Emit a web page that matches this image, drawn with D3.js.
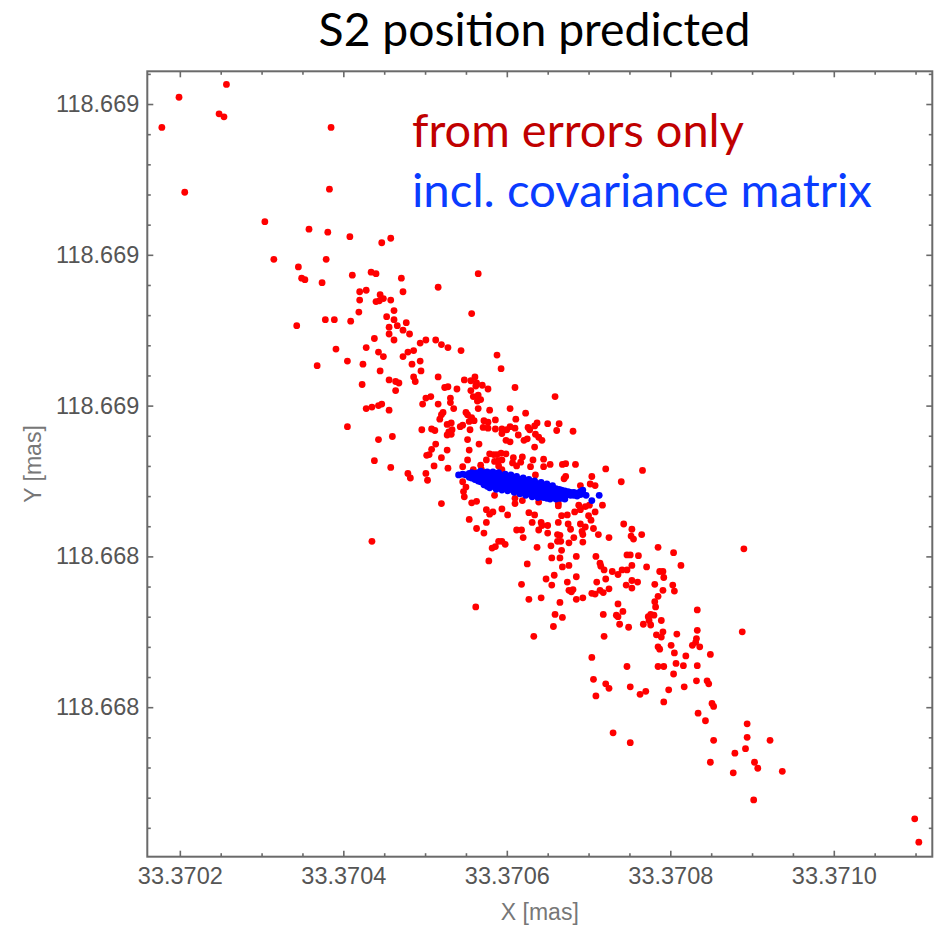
<!DOCTYPE html>
<html>
<head>
<meta charset="utf-8">
<script src="https://cdn.jsdelivr.net/npm/d3@7"></script>
<style>
  body { margin: 0; background: #fff; }
  svg { display: block; }
</style>
</head>
<body>
<svg id="chart" width="934" height="926"></svg>
<script>
// Positions are stored as offsets in nas (1e-6 mas) from these reference values (mas)
const X_REF = 33.3700;
const Y_REF = 118.6684;

const xTicks = [200, 400, 600, 800, 1000];
const xTickLabels = ["33.3702", "33.3704", "33.3706", "33.3708", "33.3710"];
const yTicks = [155, 135, 115, 95, 75];
const yTickLabels = ["118.669", "118.669", "118.669", "118.668", "118.668"];

const titleText = "S2 position predicted";
const seriesNames = ["from errors only", "incl. covariance matrix"];
const xAxisTitle = "X [mas]";
const yAxisTitle = "Y [mas]";

// Predicted positions, errors only: [x offset, y offset] in nas
const errorsOnly = [
  [257,157.6],[199,155.9],[248,153.7],[254,153.3],[178,151.9],[385,151.9],[206,143.3],[383,143.7],
  [304,139.4],[358,138.4],[381,138.0],[408,137.4],[315,134.4],[345,133.4],[379,134.4],[447,136.6],
  [458,137.2],[349,131.9],[353,131.7],[374,131.3],[411,132.3],[434,132.7],[440,132.5],[471,131.9],
  [516,130.7],[565,132.5],[420,130.1],[428,130.3],[445,129.7],[420,129.0],[440,128.8],[444,128.9],
  [449,129.2],[458,129.0],[473,130.1],[419,127.4],[462,127.6],[453,126.8],[378,126.4],[389,126.4],
  [409,126.2],[343,125.6],[462,126.4],[477,126.0],[456,125.4],[466,125.6],[473,125.0],[481,124.5],
  [456,124.5],[557,127.2],[438,123.9],[462,123.7],[494,123.3],[501,123.7],[513,123.7],[520,123.1],
  [528,122.7],[544,122.3],[391,122.5],[428,122.7],[443,122.1],[449,121.5],[479,122.1],[486,122.3],
  [473,121.5],[494,120.9],[484,120.5],[495,119.6],[368,120.3],[405,120.9],[424,120.5],[445,119.6],
  [516,118.8],[486,118.8],[488,118.2],[456,118.4],[464,118.2],[468,118.0],[423,117.8],[464,117.0],
  [524,117.4],[528,117.5],[539,117.2],[548,118.4],[556,118.3],[563,118.0],[556,117.0],[559,116.2],
  [565,116.4],[501,116.0],[507,116.2],[497,115.2],[516,115.2],[531,116.0],[531,115.4],[428,114.6],
  [435,114.8],[443,115.0],[447,115.2],[456,114.4],[522,114.1],[520,113.8],[535,114.6],[550,114.1],
  [552,113.8],[565,114.6],[588,121.7],[593,119.9],[561,118.8],[570,117.7],[577,117.2],[562,117.6],
  [610,117.4],[659,116.2],[568,115.8],[564,115.6],[579,114.4],[604,114.6],[623,114.0],[518,113.2],
  [557,113.4],[560,113.0],[554,112.9],[572,113.0],[577,112.8],[586,113.1],[611,113.2],[637,112.7],
  [634,112.3],[650,112.6],[664,112.6],[681,111.6],[496,111.8],[508,111.9],[512,111.7],[527,112.5],
  [532,112.7],[533,111.8],[529,111.5],[527,111.1],[532,111.2],[543,112.2],[546,112.4],[555,111.8],
  [571,112.1],[577,112.0],[586,111.9],[594,111.9],[594,111.3],[600,111.8],[604,112.2],[610,112.0],
  [626,112.1],[628,111.8],[614,111.1],[621,110.4],[625,110.6],[635,111.2],[639,110.8],[643,110.4],
  [634,109.5],[661,111.7],[552,110.5],[599,110.4],[604,110.2],[566,109.9],[513,109.9],[508,109.2],
  [505,108.5],[502,108.4],[527,109.1],[520,108.1],[511,107.0],[528,106.7],[554,109.1],[552,107.8],
  [579,108.6],[584,108.5],[588,108.5],[593,108.7],[599,108.6],[585,107.6],[590,107.7],[594,107.8],
  [590,107.0],[594,106.5],[592,106.2],[575,107.8],[568,107.1],[569,106.5],[559,106.5],[546,106.9],
  [619,108.2],[617,107.5],[612,107.0],[608,108.1],[607,107.4],[632,107.8],[629,106.9],[645,107.9],
  [645,106.9],[653,107.2],[668,107.2],[672,107.3],[672,105.6],[670,105.3],[684,107.2],[704,105.6],
  [635,105.8],[479,106.0],[482,105.4],[501,106.0],[503,105.1],[520,102.0],[546,104.9],[550,104.2],
  [547,103.6],[548,102.9],[585,103.1],[557,102.1],[563,102.3],[575,101.2],[579,100.6],[583,100.9],
  [575,99.5],[554,99.9],[690,104.4],[702,104.6],[708,104.4],[740,104.9],[610,102.7],[610,102.0],
  [619,102.4],[594,101.3],[601,100.5],[627,100.8],[634,100.5],[639,102.2],[663,102.0],[663,101.7],
  [688,101.8],[696,101.6],[701,101.8],[717,101.8],[683,100.9],[690,101.2],[708,100.9],[667,100.4],
  [674,100.5],[700,100.4],[703,99.8],[631,99.5],[642,99.5],[643,99.1],[650,99.1],[663,99.5],
  [675,99.3],[678,98.6],[690,99.3],[696,98.9],[692,98.3],[706,98.7],[743,99.3],[612,98.5],
  [618,98.5],[639,98.5],[650,98.1],[662,97.9],[665,97.8],[662,97.0],[666,97.0],[682,97.5],
  [693,97.9],[693,96.9],[712,97.9],[725,97.5],[753,98.6],[752,97.7],[755,97.3],[765,97.9],
  [620,97.5],[594,97.0],[598,96.6],[676,96.8],[654,96.4],[637,96.2],[667,95.8],[709,95.0],
  [685,95.0],[655,94.8],[665,94.8],[625,94.0],[668,93.6],[676,93.8],[714,94.1],[715,93.7],
  [747,95.2],[751,95.2],[761,95.1],[785,96.2],[804,95.5],[813,93.8],[771,93.6],[753,93.8],
  [719,93.2],[729,93.0],[736,92.6],[741,93.2],[747,93.2],[787,93.0],[791,93.0],[792,92.2],
  [685,92.3],[658,92.5],[648,92.0],[721,92.0],[710,91.6],[746,91.2],[753,91.8],[760,91.6],
  [753,90.8],[781,91.3],[803,91.2],[805,90.4],[791,90.5],[785,89.7],[618,91.3],[655,91.2],
  [674,91.6],[676,90.5],[681,90.6],[679,90.3],[704,90.1],[708,90.0],[714,90.5],[718,90.2],
  [725,90.7],[685,89.3],[693,89.5],[642,89.5],[627,89.3],[665,88.9],[736,88.7],[742,87.7],
  [734,87.2],[736,87.0],[738,86.0],[718,87.3],[781,89.0],[782,88.3],[659,87.3],[668,86.9],
  [657,85.7],[633,84.4],[749,85.6],[767,86.0],[773,87.0],[776,87.3],[780,87.2],[774,86.5],
  [776,85.9],[789,86.5],[783,84.6],[791,85.0],[789,84.3],[808,84.7],[785,83.0],[787,82.7],
  [801,83.2],[805,82.2],[819,81.8],[831,83.6],[827,83.2],[833,85.2],[833,87.9],[719,84.4],
  [704,81.6],[747,80.4],[785,80.4],[792,80.4],[807,80.8],[816,80.5],[804,79.4],[833,80.5],
  [706,78.7],[832,84.1],[836,83.0],[849,82.0],[888,85.0],[832,78.5],[845,78.5],[847,78.1],
  [817,77.7],[798,77.3],[721,78.1],[725,77.5],[709,76.5],[751,77.7],[763,76.7],[770,77.1],
  [792,75.7],[851,75.5],[853,75.1],[834,74.2],[843,73.2],[730,71.6],[751,70.3],[853,70.6],
  [894,72.8],[894,71.0],[892,69.5],[922,70.6],[879,68.9],[849,67.7],[903,67.7],[907,66.9],
  [877,66.3],[902,62.7],[937,66.5],[1099,60.2],[1104,57.1],[405,112.2],[443,110.5],[460,110.9],
  [438,107.7],[458,106.8],[435,97.0],[563,98.7],[572,98.1],[582,96.1],[586,96.3],[578,94.4],
  [590,97.0],[721,106.6],[766,106.4],[890,96.0],[562,88.3]
];

// Predicted positions including the covariance matrix: [x offset, y offset] in nas
const withCovariance = [
  [541,105.8],[546,105.9],[550,105.8],[554,106.0],[554,105.5],
  [557,106.1],[557,105.7],[557,105.4],[561,106.0],[561,105.6],[561,105.2],
  [565,106.1],[565,105.7],[565,105.3],[565,105.0],
  [568,106.0],[568,105.6],[568,105.2],[568,104.9],[568,106.3],
  [572,106.1],[572,105.7],[572,105.3],[572,104.9],[572,104.5],
  [576,105.9],[576,105.5],[576,105.1],[576,104.7],[576,104.3],[576,106.2],
  [579,106.0],[579,105.6],[579,105.2],[579,104.8],[579,104.5],[579,104.1],
  [583,105.9],[583,105.5],[583,105.1],[583,104.7],[583,104.3],[583,106.2],
  [587,105.9],[587,105.5],[587,105.1],[587,104.7],[587,104.3],[587,103.9],
  [590,105.8],[590,105.4],[590,105.0],[590,104.6],[590,104.2],[590,106.1],
  [594,105.7],[594,105.3],[594,104.9],[594,104.5],[594,104.2],[594,103.8],
  [598,105.6],[598,105.2],[598,104.8],[598,104.4],[598,104.0],[598,105.9],
  [601,105.6],[601,105.2],[601,104.8],[601,104.4],[601,104.1],[601,103.7],
  [605,105.5],[605,105.1],[605,104.7],[605,104.3],[605,103.9],[605,105.8],
  [609,105.4],[609,105.0],[609,104.6],[609,104.2],[609,103.9],[609,103.5],
  [612,105.3],[612,104.9],[612,104.5],[612,104.1],[612,103.7],[612,105.6],
  [616,105.2],[616,104.8],[616,104.4],[616,104.0],[616,103.7],[616,103.3],
  [620,105.1],[620,104.7],[620,104.3],[620,103.9],[620,103.5],[620,105.4],
  [623,105.0],[623,104.6],[623,104.2],[623,103.8],[623,103.5],[623,103.1],
  [627,104.9],[627,104.5],[627,104.1],[627,103.7],[627,103.3],[627,105.2],
  [631,104.8],[631,104.4],[631,104.0],[631,103.6],[631,103.3],[631,102.9],
  [634,104.7],[634,104.3],[634,103.9],[634,103.5],[634,103.1],[634,105.0],
  [638,104.6],[638,104.2],[638,103.8],[638,103.4],[638,103.1],[638,102.8],
  [642,104.5],[642,104.1],[642,103.7],[642,103.3],[642,102.9],[642,104.8],
  [645,104.4],[645,104.0],[645,103.6],[645,103.2],[645,102.8],
  [649,104.3],[649,103.9],[649,103.5],[649,103.1],[649,102.7],[649,104.6],
  [653,104.2],[653,103.8],[653,103.4],[653,103.0],[653,102.6],
  [656,104.1],[656,103.7],[656,103.3],[656,102.9],[656,104.4],
  [660,104.0],[660,103.6],[660,103.2],[660,102.9],[660,102.6],
  [664,103.9],[664,103.5],[664,103.1],[664,102.7],
  [667,103.8],[667,103.4],[667,103.0],[667,102.7],
  [671,103.7],[671,103.3],[671,102.9],[671,102.6],
  [675,103.6],[675,103.2],[678,103.5],[678,103.1],
  [682,103.5],[682,103.1],[686,103.4],[686,103.0],
  [690,103.6],[690,103.2],[693,103.8],[693,103.3],
  [697,103.1],[704,102.4],[713,103.1]
];

const W = 934, H = 926;
const plot = { left: 147.3, right: 932.3, top: 71.3, bottom: 856.7 };
const axisColor = "#6a6a6a";
const labelColor = "#555555";
const titleFont = "Lato, 'Open Sans', sans-serif";
const tickFont = "'Liberation Sans', Arial, sans-serif";

const svg = d3.select("#chart");

const x = d3.scaleLinear().domain([160.2, 1120.5]).range([plot.left, plot.right]);
const y = d3.scaleLinear().domain([55.17, 159.34]).range([plot.bottom, plot.top]);

// Scatter marks
const marks = svg.append("g");
marks.append("g").selectAll("circle")
  .data(errorsOnly)
  .join("circle")
  .attr("cx", d => x(d[0]))
  .attr("cy", d => y(d[1]))
  .attr("r", 3.4)
  .attr("fill", "#ff0000");

marks.append("g").selectAll("circle")
  .data(withCovariance)
  .join("circle")
  .attr("cx", d => x(d[0]))
  .attr("cy", d => y(d[1]))
  .attr("r", 3.4)
  .attr("fill", "#0000ff");

// Minor tick positions (x every 50 nas, y every 4 nas)
const [x0, x1] = x.domain();
const [y0, y1] = y.domain();
const xMinor = d3.range(150, 1150, 50).filter(v => v > x0 && v < x1 && !xTicks.includes(v));
const yMinor = d3.range(55, 160, 4).filter(v => v > y0 && v < y1 && !yTicks.includes(v));

function styleAxis(g) {
  g.select(".domain").remove();
  g.selectAll(".tick line").attr("stroke", axisColor).attr("stroke-width", 1.6);
  g.selectAll(".tick text")
    .attr("fill", labelColor)
    .attr("font-family", tickFont)
    .attr("font-size", 23.5);
}

const none = () => "";

// Bottom
svg.append("g").attr("transform", `translate(0,${plot.bottom})`)
  .call(d3.axisBottom(x).tickValues(xTicks).tickFormat((d, i) => xTickLabels[i])
    .tickSizeInner(-6).tickSizeOuter(0).tickPadding(11))
  .call(styleAxis);
svg.append("g").attr("transform", `translate(0,${plot.bottom})`)
  .call(d3.axisBottom(x).tickValues(xMinor).tickFormat(none).tickSizeInner(-3.5).tickSizeOuter(0))
  .call(styleAxis);
// Top
svg.append("g").attr("transform", `translate(0,${plot.top})`)
  .call(d3.axisTop(x).tickValues(xTicks).tickFormat(none).tickSizeInner(-6).tickSizeOuter(0))
  .call(styleAxis);
svg.append("g").attr("transform", `translate(0,${plot.top})`)
  .call(d3.axisTop(x).tickValues(xMinor).tickFormat(none).tickSizeInner(-3.5).tickSizeOuter(0))
  .call(styleAxis);
// Left
svg.append("g").attr("transform", `translate(${plot.left},0)`)
  .call(d3.axisLeft(y).tickValues(yTicks).tickFormat((d, i) => yTickLabels[i])
    .tickSizeInner(-6).tickSizeOuter(0).tickPadding(8))
  .call(styleAxis);
svg.append("g").attr("transform", `translate(${plot.left},0)`)
  .call(d3.axisLeft(y).tickValues(yMinor).tickFormat(none).tickSizeInner(-3.5).tickSizeOuter(0))
  .call(styleAxis);
// Right
svg.append("g").attr("transform", `translate(${plot.right},0)`)
  .call(d3.axisRight(y).tickValues(yTicks).tickFormat(none).tickSizeInner(-6).tickSizeOuter(0))
  .call(styleAxis);
svg.append("g").attr("transform", `translate(${plot.right},0)`)
  .call(d3.axisRight(y).tickValues(yMinor).tickFormat(none).tickSizeInner(-3.5).tickSizeOuter(0))
  .call(styleAxis);

// Frame
svg.append("rect")
  .attr("x", plot.left).attr("y", plot.top)
  .attr("width", plot.right - plot.left).attr("height", plot.bottom - plot.top)
  .attr("fill", "none").attr("stroke", axisColor).attr("stroke-width", 2);

// Axis titles
svg.append("text")
  .attr("x", (plot.left + plot.right) / 2).attr("y", 920)
  .attr("text-anchor", "middle")
  .attr("font-family", tickFont).attr("font-size", 23)
  .attr("fill", "#777").text(xAxisTitle);

svg.append("text")
  .attr("transform", `translate(41,${(plot.top + plot.bottom) / 2}) rotate(-90)`)
  .attr("text-anchor", "middle")
  .attr("font-family", tickFont).attr("font-size", 23)
  .attr("fill", "#777").text(yAxisTitle);

// Fit a text element's font size to a target width
function fitWidth(sel, target, base) {
  const w = sel.node().getComputedTextLength();
  if (w > 0) sel.attr("font-size", base * target / w);
}

// Title
const title = svg.append("text")
  .attr("x", 534.5).attr("y", 46)
  .attr("text-anchor", "middle")
  .attr("font-family", titleFont).attr("font-size", 40)
  .attr("fill", "#000").text(titleText);
fitWidth(title, 432, 40);

// Series labels
const lab1 = svg.append("text")
  .attr("x", 412).attr("y", 147)
  .attr("font-family", titleFont).attr("font-size", 40)
  .attr("fill", "#c00000").text(seriesNames[0]);
fitWidth(lab1, 332, 40);

const lab2 = svg.append("text")
  .attr("x", 412).attr("y", 206.5)
  .attr("font-family", titleFont).attr("font-size", 40)
  .attr("fill", "#0a3cff").text(seriesNames[1]);
fitWidth(lab2, 460, 40);
</script>
</body>
</html>
